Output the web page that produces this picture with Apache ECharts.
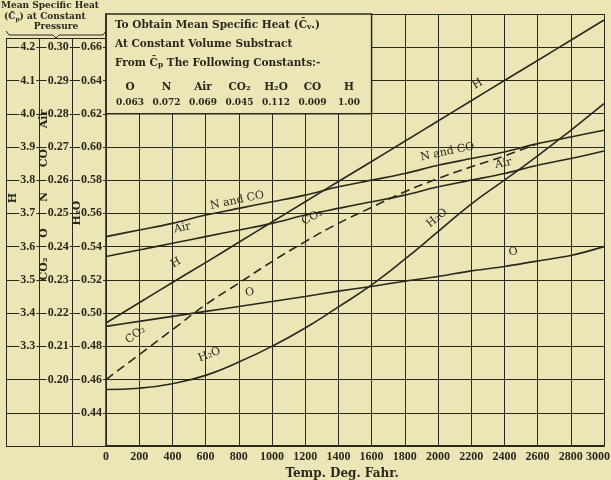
<!DOCTYPE html>
<html>
<head>
<meta charset="utf-8">
<script src="https://cdn.jsdelivr.net/npm/echarts@6/dist/echarts.min.js"></script>
<style>
html, body { margin: 0; padding: 0; background: #ece6b7; }
#chart { width: 611px; height: 480px; }
</style>
</head>
<body>
<div id="chart"></div>
<script>
// temperatures (deg F) and mean specific heat readings
const temps = [0, 200, 400, 600, 800, 1000, 1200, 1400, 1600, 1800, 2000, 2200, 2400, 2600, 2800, 3000];
const hVals = [3.370, 3.431, 3.492, 3.552, 3.613, 3.674, 3.735, 3.796, 3.856, 3.917, 3.978, 4.039, 4.100, 4.160, 4.221, 4.282];
const nCoVals = [0.243, 0.245, 0.247, 0.2495, 0.2515, 0.2535, 0.2555, 0.258, 0.260, 0.262, 0.2645, 0.2665, 0.2685, 0.271, 0.273, 0.275];
const airVals = [0.237, 0.239, 0.241, 0.243, 0.245, 0.247, 0.2495, 0.2515, 0.2535, 0.2555, 0.258, 0.260, 0.262, 0.2645, 0.2665, 0.2688];
const oVals = [0.216, 0.2175, 0.219, 0.2205, 0.222, 0.2235, 0.225, 0.2266, 0.228, 0.2296, 0.231, 0.2327, 0.234, 0.2357, 0.2373, 0.240];
const co2Vals = [0.200, 0.2075, 0.215, 0.2225, 0.229, 0.2355, 0.2415, 0.247, 0.2518, 0.2565, 0.2605, 0.264, 0.2673, 0.271];
const h2oVals = [0.454, 0.4548, 0.4575, 0.4625, 0.4705, 0.480, 0.491, 0.5037, 0.517, 0.5324, 0.549, 0.5656, 0.580, 0.5946, 0.610, 0.626];

// tick labels of the three left scales
const hLabels = ['3.3', '3.4', '3.5', '3.6', '3.7', '3.8', '3.9', '4.0', '4.1', '4.2'];
const midLabels = ['0.20', '0.21', '0.22', '0.23', '0.24', '0.25', '0.26', '0.27', '0.28', '0.29', '0.30'];
const h2oLabels = ['0.44', '0.46', '0.48', '0.50', '0.52', '0.54', '0.56', '0.58', '0.60', '0.62', '0.64', '0.66'];

// constants to subtract for Cv
const gases = ['O', 'N', 'Air', 'CO₂', 'H₂O', 'CO', 'H'];
const constants = ['0.063', '0.072', '0.069', '0.045', '0.112', '0.009', '1.00'];

const ink = '#2a281d';
const bg = '#ece6b7';
const serif = 'DejaVu Serif';
const lib = 'Liberation Serif';

function pairs(vals) {
    return vals.map((v, i) => [temps[i], v]);
}

function tag(text, vals, i, dx, dy, rot) {
    return { coord: [temps[i], vals[i]], label: { formatter: text, offset: [dx, dy], rotate: rot } };
}

function line(name, vals, yIdx, tags, dashed, smooth) {
    return {
        name: name,
        type: 'line',
        xAxisIndex: 0,
        yAxisIndex: yIdx,
        data: pairs(vals),
        smooth: smooth || 0.3,
        symbol: 'none',
        lineStyle: { color: ink, width: 1.6, type: dashed ? [9, 5] : 'solid' },
        markPoint: {
            symbol: 'circle',
            symbolSize: 0,
            silent: true,
            itemStyle: { color: 'transparent' },
            label: { show: true, position: 'inside', color: ink, fontFamily: serif, fontSize: 11 },
            data: tags,
        },
    };
}

function scaleAxis(min, max, interval, offset, labels, digits, extra) {
    return Object.assign({
        type: 'value',
        gridIndex: 0,
        position: 'left',
        offset: offset,
        min: min,
        max: max,
        interval: interval,
        z: 1,
        axisLine: { show: false },
        axisTick: { show: false },
        splitLine: { show: false },
        axisLabel: {
            margin: 3,
            color: ink,
            fontFamily: lib,
            fontWeight: 'bold',
            fontSize: 12,
            backgroundColor: bg,
            padding: [0, 1],
            formatter: v => {
                const s = v.toFixed(digits);
                return labels.includes(s) ? s : '';
            },
        },
    }, extra);
}

function txt(x, y, text, size, extra) {
    return {
        type: 'text', x: x, y: y, z: 100,
        style: Object.assign({
            text: text,
            fill: ink,
            font: 'bold ' + size + 'px "DejaVu Serif"',
            align: 'left',
            verticalAlign: 'middle',
            rich: { s: { fontSize: size - 3, fontWeight: 'bold', fontFamily: serif, fill: ink, padding: [5, 0, 0, 0] } },
        }, extra),
    };
}

const graphics = [
    txt(1, 6, 'Mean Specific Heat', 9),
    txt(4, 17, '(C\u0304{s|p}) at Constant', 9),
    txt(56, 27, 'Pressure', 9, { align: 'center' }),
    {
        type: 'polyline', z: 100,
        shape: { points: [[6, 31], [9, 35], [53, 35], [56, 38], [59, 35], [103, 35], [106, 31]] },
        style: { stroke: ink, lineWidth: 1, fill: null },
    },
    txt(13, 198, 'H', 11, { align: 'center' }),
    txt(44, 269, 'CO₂', 11, { align: 'center' }),
    txt(44, 233, 'O', 11, { align: 'center' }),
    txt(44, 197, 'N', 11, { align: 'center' }),
    txt(44, 158, 'CO', 11, { align: 'center' }),
    txt(44, 119, 'Air', 11, { align: 'center' }),
    txt(77, 213, 'H₂O', 11, { align: 'center' }),
    txt(115, 25, 'To Obtain Mean Specific Heat (C\u0304{s|v}.)', 10.5),
    txt(115, 44, 'At Constant Volume Substract', 10.5),
    txt(115, 63, 'From C\u0304{s|p} The Following Constants:-', 10.5),
];
// vertical column titles read bottom to top
for (let i = 4; i <= 10; i++) graphics[i].rotation = Math.PI / 2;
gases.forEach((g, i) => graphics.push(txt(130 + i * 36.5, 87, g, 10.5, { align: 'center' })));
constants.forEach((c, i) => graphics.push(txt(130 + i * 36.5, 103, c, 9, { align: 'center' })));

const xMax = temps[temps.length - 1];

const option = {
    backgroundColor: bg,
    animation: false,
    grid: [
        { left: 106, right: 7, top: 14, bottom: 34, outerBoundsMode: 'none' },
        { left: 6, right: 505, top: 38, bottom: 34, outerBoundsMode: 'none' },
    ],
    xAxis: [
        {
            type: 'value', gridIndex: 0, min: 0, max: xMax, interval: 200, z: 1,
            name: 'Temp. Deg. Fahr.', nameLocation: 'middle', nameGap: 20,
            nameTextStyle: { color: ink, fontFamily: serif, fontWeight: 'bold', fontSize: 12, padding: [0, 26, 0, 0] },
            axisLine: { show: true, lineStyle: { color: ink, width: 2 } },
            axisTick: { show: false },
            axisLabel: {
                margin: 5, color: ink, fontFamily: lib, fontWeight: 'bold', fontSize: 12,
                showMinLabel: true, showMaxLabel: true, hideOverlap: false,
                formatter: v => (v === xMax ? '{r|' + v + '}' : String(v)),
                rich: { r: { color: ink, fontFamily: lib, fontWeight: 'bold', fontSize: 12, padding: [0, 12, 0, 0] } },
            },
            splitLine: { show: true, lineStyle: { color: ink, width: 1 } },
        },
        {
            type: 'value', gridIndex: 1, min: 0, max: 3, interval: 1,
            axisLine: { show: false }, axisTick: { show: false }, axisLabel: { show: false },
            splitLine: { show: true, lineStyle: { color: ink, width: 1 } },
        },
    ],
    yAxis: [
        scaleAxis(0.42, 0.68, 0.02, 0, h2oLabels, 2, {
            axisLine: { show: true, lineStyle: { color: ink, width: 1.5 } },
            splitLine: { show: true, lineStyle: { color: ink, width: 1 } },
        }),
        scaleAxis(0.18, 0.31, 0.01, 33.3, midLabels, 2),
        scaleAxis(3.0, 4.3, 0.1, 66.7, hLabels, 1),
        {
            type: 'value', gridIndex: 1, min: 0, max: 12.28, interval: 1,
            axisLine: { show: false }, axisTick: { show: false }, axisLabel: { show: false },
            splitLine: { show: true, lineStyle: { color: ink, width: 1 } },
        },
    ],
    graphic: graphics,
    series: [
        Object.assign(line('H', hVals, 2, [
            tag('H', hVals, 2, 13, -15, 31),
            tag('H', hVals, 11, 14, -11, 31),
        ]), {
            markArea: {
                silent: true,
                itemStyle: { color: bg, borderColor: ink, borderWidth: 1.5 },
                data: [[{ coord: [0, 4.3] }, { coord: [1600, 4.0] }]],
            },
        }),
        line('N and CO', nCoVals, 1, [
            tag('N and CO', nCoVals, 4, 0, -8, 12),
            tag('N and CO', nCoVals, 10, 12, -11, 12),
        ]),
        line('Air', airVals, 1, [
            tag('Air', airVals, 2, 13, -13, 12),
            tag('Air', airVals, 12, 1, -10, 12),
        ]),
        line('O', oVals, 1, [
            tag('O', oVals, 4, 13, -12, 9),
            tag('O', oVals, 12, 11, -13, 9),
        ]),
        line('CO₂', co2Vals, 1, [
            tag('CO₂', co2Vals, 1, 9, -18, 37),
            tag('CO₂', co2Vals, 6, 18, -18, 29),
        ], true, 0.5),
        line('H₂O', h2oVals, 0, [
            tag('H₂O', h2oVals, 3, 11, -18, 21),
            tag('H₂O', h2oVals, 10, 8, -11, 40),
        ], false, 0.5),
    ],
};

const chart = echarts.init(document.getElementById('chart'));
chart.setOption(option);
</script>
</body>
</html>
